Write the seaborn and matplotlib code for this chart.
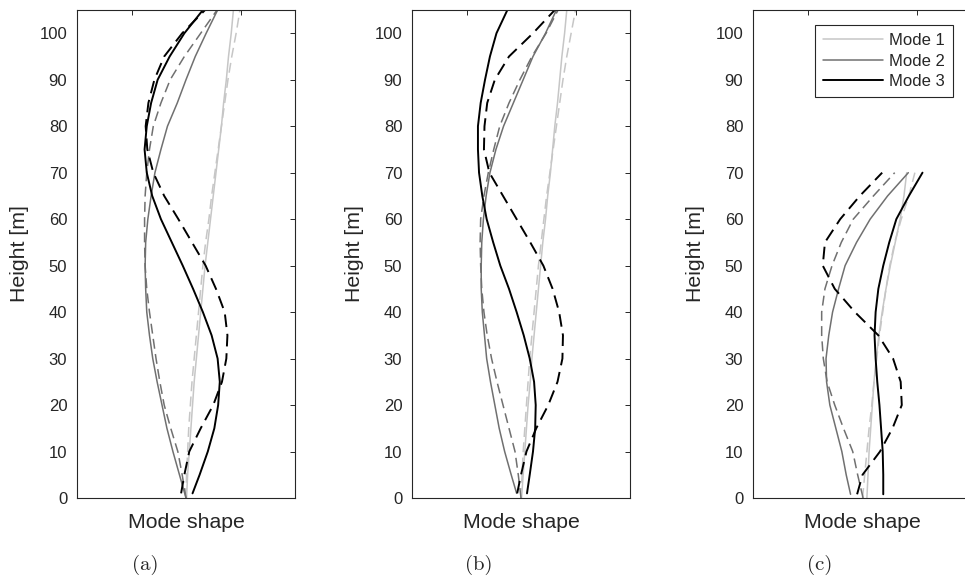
import matplotlib
matplotlib.use("Agg")
import matplotlib.pyplot as plt
import seaborn as sns

# heights [m]
H_AB = [0, 5, 10, 15, 20, 25, 30, 35, 40, 45, 50, 55, 60, 65, 70, 75, 80, 85, 90, 95, 100, 105]
H_AB1 = [1, 5, 10, 15, 20, 25, 30, 35, 40, 45, 50, 55, 60, 65, 70, 75, 80, 85, 90, 95, 100, 105]
H_C = [0, 5, 10, 15, 20, 25, 30, 35, 40, 45, 50, 55, 60, 65, 70]
H_C1 = [0.8, 5, 10, 15, 20, 25, 30, 35, 40, 45, 50, 55, 60, 65, 70]

# panel (a)
a_m1 = [0.01, 0.03, 0.06, 0.09, 0.12, 0.15, 0.19, 0.23, 0.27, 0.31, 0.35, 0.40, 0.45, 0.50, 0.55, 0.60, 0.65, 0.69, 0.74, 0.78, 0.83, 0.87]
a_m1d = [0.0, 0.01, 0.03, 0.05, 0.08, 0.11, 0.15, 0.19, 0.23, 0.27, 0.31, 0.36, 0.42, 0.47, 0.53, 0.59, 0.65, 0.71, 0.77, 0.84, 0.92, 0.99]
a_m2 = [0.0, -0.12, -0.24, -0.35, -0.44, -0.53, -0.61, -0.67, -0.72, -0.74, -0.75, -0.74, -0.70, -0.64, -0.57, -0.46, -0.34, -0.16, 0.0, 0.17, 0.37, 0.58]
a_m2d = [0.0, -0.07, -0.15, -0.28, -0.40, -0.48, -0.55, -0.61, -0.67, -0.72, -0.75, -0.76, -0.76, -0.75, -0.72, -0.67, -0.60, -0.46, -0.29, -0.03, 0.27, 0.57]
a_m3 = [0.12, 0.25, 0.40, 0.52, 0.59, 0.62, 0.58, 0.47, 0.31, 0.13, -0.06, -0.26, -0.46, -0.62, -0.72, -0.76, -0.72, -0.64, -0.52, -0.30, -0.03, 0.31]
a_m3d = [-0.09, -0.03, 0.06, 0.27, 0.50, 0.66, 0.74, 0.76, 0.71, 0.55, 0.36, 0.11, -0.14, -0.40, -0.60, -0.71, -0.74, -0.69, -0.58, -0.40, -0.07, 0.35]

# panel (b)
b_m1 = [0.01, 0.04, 0.07, 0.10, 0.13, 0.17, 0.20, 0.24, 0.28, 0.32, 0.36, 0.40, 0.45, 0.49, 0.54, 0.58, 0.62, 0.67, 0.71, 0.75, 0.80, 0.84]
b_m1d = [0.0, 0.02, 0.04, 0.07, 0.10, 0.13, 0.16, 0.20, 0.24, 0.28, 0.32, 0.37, 0.42, 0.47, 0.53, 0.59, 0.65, 0.71, 0.77, 0.84, 0.92, 1.0]
b_m2 = [-0.08, -0.18, -0.30, -0.40, -0.48, -0.56, -0.63, -0.67, -0.71, -0.73, -0.73, -0.72, -0.69, -0.64, -0.57, -0.46, -0.32, -0.14, 0.04, 0.22, 0.45, 0.65]
b_m2d = [0.0, -0.05, -0.11, -0.22, -0.33, -0.44, -0.54, -0.62, -0.68, -0.72, -0.74, -0.75, -0.74, -0.68, -0.60, -0.50, -0.39, -0.22, -0.02, 0.20, 0.46, 0.68]
b_m3 = [0.11, 0.16, 0.22, 0.26, 0.27, 0.24, 0.16, 0.05, -0.08, -0.22, -0.38, -0.51, -0.63, -0.71, -0.77, -0.79, -0.79, -0.74, -0.66, -0.57, -0.45, -0.25]
b_m3d = [-0.07, 0.0, 0.10, 0.28, 0.50, 0.67, 0.76, 0.77, 0.70, 0.58, 0.41, 0.17, -0.08, -0.33, -0.58, -0.68, -0.67, -0.62, -0.48, -0.22, 0.22, 0.62]

# panel (c)
c_m1 = [0.09, 0.11, 0.13, 0.16, 0.19, 0.22, 0.26, 0.31, 0.37, 0.44, 0.52, 0.61, 0.70, 0.77, 0.82]
c_m1d = [0.01, 0.05, 0.09, 0.13, 0.18, 0.22, 0.27, 0.32, 0.38, 0.44, 0.51, 0.60, 0.72, 0.86, 0.97]
c_m2 = [-0.21, -0.29, -0.37, -0.48, -0.59, -0.65, -0.66, -0.61, -0.54, -0.43, -0.31, -0.10, 0.15, 0.47, 0.85]
c_m2d = [0.02, -0.08, -0.17, -0.34, -0.50, -0.64, -0.71, -0.74, -0.74, -0.68, -0.55, -0.38, -0.16, 0.21, 0.60]
c_m3 = [0.39, 0.39, 0.38, 0.35, 0.32, 0.28, 0.25, 0.23, 0.25, 0.30, 0.39, 0.50, 0.63, 0.86, 1.11]
c_m3d = [-0.09, 0.01, 0.33, 0.56, 0.73, 0.71, 0.57, 0.30, -0.13, -0.50, -0.72, -0.68, -0.40, -0.04, 0.37]

colors = ["#c6c6c6", "#707070", "#000000"]
widths = [1.1, 1.1, 1.4]
labels = ["Mode 1", "Mode 2", "Mode 3"]
ink = "#262626"

panels = [
    ("(a)", [(H_AB, a_m1, H_AB, a_m1d), (H_AB, a_m2, H_AB, a_m2d), (H_AB1, a_m3, H_AB1, a_m3d)]),
    ("(b)", [(H_AB, b_m1, H_AB, b_m1d), (H_AB1, b_m2, H_AB, b_m2d), (H_AB1, b_m3, H_AB1, b_m3d)]),
    ("(c)", [(H_C, c_m1, H_C, c_m1d), (H_C1, c_m2, H_C, c_m2d), (H_C1, c_m3, H_C1, c_m3d)]),
]

sns.set_style("white")
plt.rcParams["font.family"] = ["Liberation Sans", "DejaVu Sans"]

W, Hpx = 965, 581
fig = plt.figure(figsize=(W / 100, Hpx / 100), dpi=100)

lefts = [77, 412, 753]
caption_x = [145, 479, 820]
bottom, top = 498, 10

for i, (cap, curves) in enumerate(panels):
    ax = fig.add_axes([lefts[i] / W, 1 - bottom / Hpx, 218 / W, (bottom - top) / Hpx])
    for k, (hs, xs, hd, xd) in enumerate(curves):
        sns.lineplot(x=xd, y=hd, sort=False, estimator=None, ax=ax,
                     color=colors[k], lw=widths[k], linestyle=(0, (6.5, 3.5)))
        sns.lineplot(x=xs, y=hs, sort=False, estimator=None, ax=ax,
                     color=colors[k], lw=widths[k], label=labels[k] if i == 2 else None)
    ax.set_xlim(-2, 2)
    ax.set_ylim(0, 105)
    ax.set_xticks([-1, 1])
    ax.set_xticklabels([])
    ax.set_yticks(range(0, 101, 10))
    ax.tick_params(direction="in", top=True, right=True, length=3.6, width=0.7,
                   color=ink, labelcolor=ink, labelsize=12, pad=7)
    for s in ax.spines.values():
        s.set_visible(True)
        s.set_color(ink)
        s.set_linewidth(0.8)
    ax.set_xlabel("Mode shape", fontsize=15.3, color=ink, va="center")
    ax.xaxis.set_label_coords(0.5, -24 / (bottom - top))
    ax.set_ylabel("Height [m]", fontsize=15.3, color=ink, va="center")
    ax.yaxis.set_label_coords(-0.263, 0.5)
    if i == 2:
        leg = ax.legend(loc="upper right", bbox_to_anchor=(953 / W, 1 - 25 / Hpx),
                        bbox_transform=fig.transFigure, fancybox=False, framealpha=1,
                        edgecolor=ink, fontsize=12, handlelength=3.6, handletextpad=0.35,
                        labelspacing=0.32, borderpad=0.5, borderaxespad=0)
        leg.get_frame().set_linewidth(0.8)
        for t in leg.get_texts():
            t.set_color(ink)
    else:
        if ax.get_legend() is not None:
            ax.get_legend().remove()
    fig.text(caption_x[i] / W, 1 - 565 / Hpx, cap, family="cmr10", fontsize=15,
             ha="center", va="center", color=ink)

fig.savefig("out.png", dpi=100)
